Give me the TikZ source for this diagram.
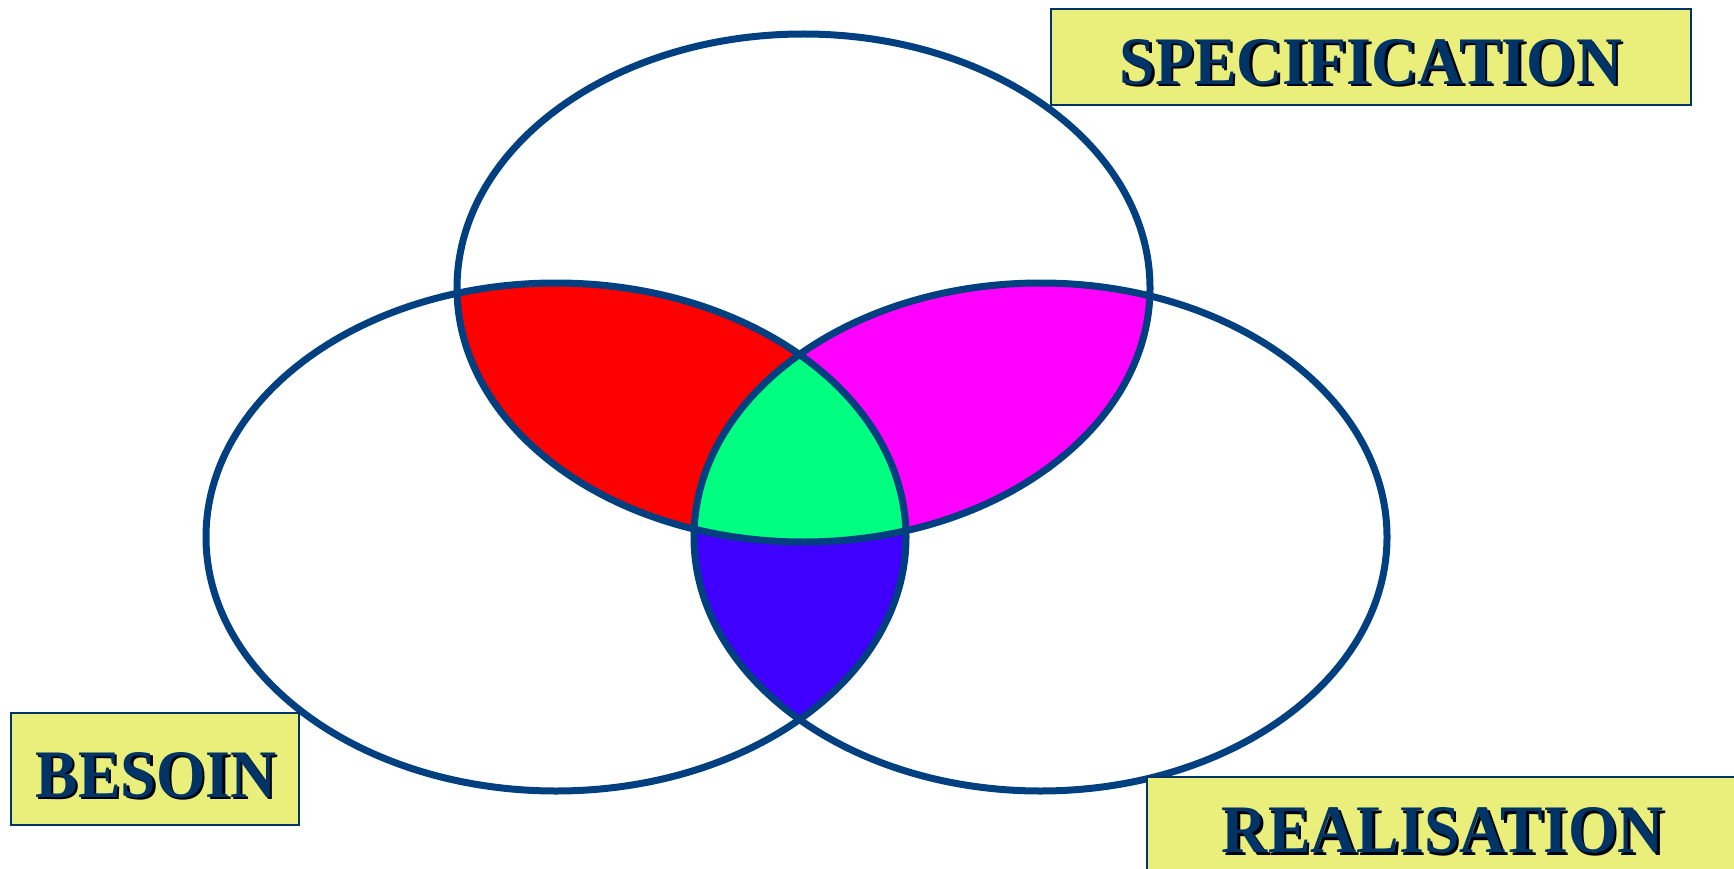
\documentclass[tikz,border=0pt]{standalone}
\usepackage{fontspec}
\setmainfont{Liberation Serif}
\usepackage{graphicx}
\definecolor{linec}{RGB}{0,64,128}
\definecolor{boxfill}{RGB}{233,239,122}
\definecolor{navy}{RGB}{0,51,102}
\definecolor{vred}{RGB}{255,0,0}
\definecolor{vmag}{RGB}{255,0,255}
\definecolor{vgreen}{RGB}{0,255,128}
\definecolor{vblue}{RGB}{64,0,255}
\newcommand\shadowed[1]{\rlap{\kern2.5pt\raisebox{-2.5pt}[0pt][0pt]{\color{black}#1}}{\color{navy}#1}}
\tikzset{
  ring/.style={draw=linec, line width=7pt},
  labelbox/.style={draw=navy, line width=2.5pt, fill=boxfill, inner sep=0pt},
  labeltext/.style={inner sep=0pt}
}
\begin{document}
\begin{tikzpicture}[x=1pt,y=-1pt]
\useasboundingbox (0,0) rectangle (1734,869);
\fill[white] (0,0) rectangle (1734,869);
% regions
\begin{scope}
  \clip (803.5,288) ellipse [x radius=346.5pt, y radius=254pt];
  \fill[vred] (556,537) ellipse [x radius=350pt, y radius=254pt];
\end{scope}
\begin{scope}
  \clip (803.5,288) ellipse [x radius=346.5pt, y radius=254pt];
  \fill[vmag] (1040.5,537) ellipse [x radius=346.5pt, y radius=254pt];
\end{scope}
\begin{scope}
  \clip (556,537) ellipse [x radius=350pt, y radius=254pt];
  \fill[vblue] (1040.5,537) ellipse [x radius=346.5pt, y radius=254pt];
\end{scope}
\begin{scope}
  \clip (803.5,288) ellipse [x radius=346.5pt, y radius=254pt];
  \clip (556,537) ellipse [x radius=350pt, y radius=254pt];
  \fill[vgreen] (1040.5,537) ellipse [x radius=346.5pt, y radius=254pt];
\end{scope}
% outlines
\draw[ring] (803.5,288) ellipse [x radius=346.5pt, y radius=254pt];
\draw[ring] (556,537) ellipse [x radius=350pt, y radius=254pt];
\draw[ring] (1040.5,537) ellipse [x radius=346.5pt, y radius=254pt];
% labels
\node[labelbox, minimum width=640pt, minimum height=96pt] (specbox) at (1371,57) {};
\node[labeltext] (spectext) at (1371,62) {\shadowed{\resizebox{502pt}{45pt}{\bfseries SPECIFICATION}}};
\node[labelbox, minimum width=288pt, minimum height=112pt] (besbox) at (155,769) {};
\node[labeltext] (bestext) at (156,775) {\shadowed{\resizebox{241pt}{45pt}{\bfseries BESOIN}}};
\node[labelbox, minimum width=615pt, minimum height=124pt] (realbox) at (1454.5,839) {};
\node[labeltext] (realtext) at (1443,830.5) {\shadowed{\resizebox{442pt}{45pt}{\bfseries REALISATION}}};
\end{tikzpicture}
\end{document}
